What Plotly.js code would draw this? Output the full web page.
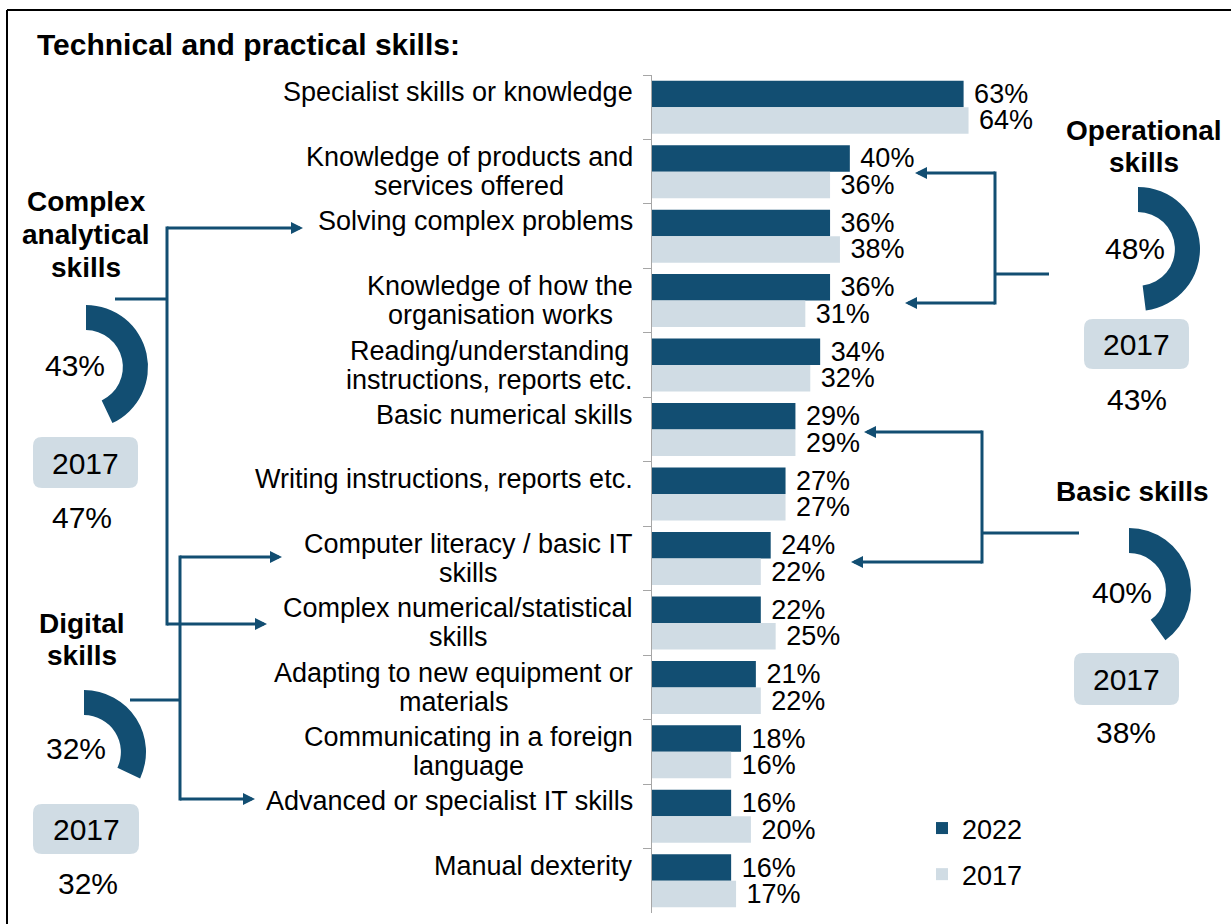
<!DOCTYPE html>
<html><head><meta charset="utf-8">
<script src="https://cdn.plot.ly/plotly-3.0.1.min.js"></script>
<style>html,body{margin:0;padding:0;background:#fff}#chart{width:1231px;height:924px}</style>
</head><body><div id="chart"></div>
<script>
// ---------------- DATA ----------------
const categories = [
  'Specialist skills or knowledge',
  'Knowledge of products and<br>services offered',
  'Solving complex problems',
  'Knowledge of how the<br>organisation works',
  'Reading/understanding<br>instructions, reports etc.',
  'Basic numerical skills',
  'Writing instructions, reports etc.',
  'Computer literacy / basic IT<br>skills',
  'Complex numerical/statistical<br>skills',
  'Adapting to new equipment or<br>materials',
  'Communicating in a foreign<br>language',
  'Advanced or specialist IT skills',
  'Manual dexterity'
];
const values2022 = [63, 40, 36, 36, 34, 29, 27, 24, 22, 21, 18, 16, 16];
const values2017 = [64, 36, 38, 31, 32, 29, 27, 22, 25, 22, 16, 20, 17];
const seriesNames = ['2022', '2017'];

const chartTitle = 'Technical and practical skills:';
const groupTitles = ['Complex<br>analytical<br>skills', 'Digital<br>skills', 'Operational<br>skills', 'Basic skills'];
const group2022 = [43, 32, 48, 40];
const group2017 = [47, 32, 43, 38];
const compareYear = '2017';

// ---------------- STYLE / LAYOUT ----------------
const W = 1231, H = 924;
const DARK = '#124e72', LIGHT = '#d0dce4';
const FONT = 'Liberation Sans, Arial, sans-serif';
const FS = 27;
const FS_GROUP = 30;
const X = p => p / W;
const Y = p => 1 - p / H;

// per-group placement (pixels)
const groupPlace = [
  {cx:86,  cy:367, r:62, valX:75,   valY:365, headX:86,   headY:[202,235,267], box:[33,437,138,488],   boxY:463, prevX:82,   prevY:517,
   vx:167, stub:[115,299], arrows:[[228,303],[624,267]]},
  {cx:84,  cy:752, r:62, valX:76,   valY:748, headX:82,   headY:[623,655],     box:[33,804,139,854],   boxY:829, prevX:88,   prevY:883,
   vx:180, stub:[130,700], arrows:[[557,282],[799,255]]},
  {cx:1138,cy:249, r:62, valX:1135, valY:248, headX:1144, headY:[130,162],     box:[1084,319,1189,369],boxY:344, prevX:1137, prevY:399,
   vx:995, stub:[1049,274], arrows:[[173,915],[303,905]]},
  {cx:1129,cy:590, r:62, valX:1122, valY:592, headX:1132, headY:[492],         box:[1074,653,1179,705],boxY:679, prevX:1126, prevY:732,
   vx:982, stub:[1079,533], arrows:[[432,864],[562,851]]}
];

const traces = [];
traces.push({
  type:'bar', orientation:'h', name:seriesNames[0], y:categories, x:values2022,
  marker:{color:DARK, line:{width:0}}, texttemplate:'\u00a0%{x}%', textposition:'outside',
  textfont:{size:FS, color:'#000', family:FONT}, constraintext:'none', cliponaxis:false,
  legendgroup:'a', hoverinfo:'skip'
});
traces.push({
  type:'bar', orientation:'h', name:seriesNames[1], y:categories, x:values2017,
  marker:{color:LIGHT, line:{width:0}}, texttemplate:'\u00a0%{x}%', textposition:'outside',
  textfont:{size:FS, color:'#000', family:FONT}, constraintext:'none', cliponaxis:false,
  legendgroup:'b', hoverinfo:'skip'
});

const shapes = [];
const annotations = [];
function txt(px, py, text, size, extra){
  return Object.assign({xref:'paper', yref:'paper', x:X(px), y:Y(py), xanchor:'center', yanchor:'middle', showarrow:false,
    text:text, font:{size:size, color:'#000', family:FONT}}, extra || {});
}

// frame (top + left)
shapes.push({type:'line', xref:'paper', yref:'paper', x0:X(7), y0:Y(10), x1:X(1231), y1:Y(10), line:{color:'#000', width:2}});
shapes.push({type:'line', xref:'paper', yref:'paper', x0:X(7), y0:Y(10), x1:X(7), y1:Y(924), line:{color:'#000', width:2}});

// title
annotations.push(txt(35, 45, '<b>'+chartTitle+'</b>', 30, {xanchor:'left'}));

// category labels (lines centered within block, block right-aligned to axis)
const ctx = document.createElement('canvas').getContext('2d');
ctx.font = FS + 'px "Liberation Sans"';
categories.forEach((c, i) => {
  const lines = c.split('<br>');
  const wmax = Math.max(...lines.map(l => ctx.measureText(l).width));
  const offs = lines.length === 1 ? [15] : [14.5, -14.5];
  lines.forEach((l, k) => {
    annotations.push({xref:'x', yref:'y', x:0, y:c, xanchor:'center', yanchor:'middle', showarrow:false,
      xshift: -19 - wmax/2, yshift: offs[k], text:l, font:{size:FS, color:'#000', family:FONT}});
  });
});

function rrect(x0,y0,x1,y1,r){
  const p = (x,y) => X(x)+','+Y(y);
  return 'M'+p(x0+r,y0)+' L'+p(x1-r,y0)+' Q'+p(x1,y0)+' '+p(x1,y0+r)+' L'+p(x1,y1-r)+' Q'+p(x1,y1)+' '+p(x1-r,y1)+
         ' L'+p(x0+r,y1)+' Q'+p(x0,y1)+' '+p(x0,y1-r)+' L'+p(x0,y0+r)+' Q'+p(x0,y0)+' '+p(x0+r,y0)+' Z';
}

groupPlace.forEach((g, i) => {
  // donut arc
  traces.push({type:'pie', values:[group2022[i], 100-group2022[i]], sort:false, direction:'clockwise', rotation:0,
    hole:0.595, marker:{colors:[DARK,'rgba(0,0,0,0)'], line:{width:0}}, textinfo:'none', hoverinfo:'skip', showlegend:false,
    domain:{x:[X(g.cx-g.r), X(g.cx+g.r)], y:[Y(g.cy+g.r), Y(g.cy-g.r)]}});
  annotations.push(txt(g.valX, g.valY, group2022[i]+'%', FS_GROUP));
  // heading
  groupTitles[i].split('<br>').forEach((l, k) => {
    annotations.push(txt(g.headX, g.headY[k], '<b>'+l+'</b>', 28));
  });
  // 2017 box
  shapes.push({type:'path', xref:'paper', yref:'paper', path:rrect(g.box[0],g.box[1],g.box[2],g.box[3],9), fillcolor:LIGHT, line:{width:0}});
  annotations.push(txt((g.box[0]+g.box[2])/2, g.boxY, compareYear, FS_GROUP));
  annotations.push(txt(g.prevX, g.prevY, group2017[i]+'%', FS_GROUP));
  // connectors
  const ys = g.arrows.map(a => a[0]);
  shapes.push({type:'line', xref:'paper', yref:'paper', x0:X(g.vx), y0:Y(Math.min(...ys)-1.5), x1:X(g.vx), y1:Y(Math.max(...ys)+1.5),
    line:{color:DARK, width:3}});
  shapes.push({type:'line', xref:'paper', yref:'paper', x0:X(g.stub[0]), y0:Y(g.stub[1]), x1:X(g.vx), y1:Y(g.stub[1]),
    line:{color:DARK, width:3}});
  g.arrows.forEach(a => {
    annotations.push({xref:'paper', yref:'paper', x:X(a[1]), y:Y(a[0]), ax:g.vx - a[1] + (g.vx > a[1] ? 1.5 : -1.5), ay:0,
      axref:'pixel', ayref:'pixel', showarrow:true, arrowhead:2, arrowsize:0.8, arrowwidth:3, arrowcolor:DARK, text:'', standoff:0});
  });
});

const layout = {
  width:W, height:H, margin:{l:0, r:0, t:0, b:0}, paper_bgcolor:'#fff', plot_bgcolor:'rgba(0,0,0,0)',
  font:{family:FONT, size:FS, color:'#000'},
  barmode:'group', bargap:0.178, bargroupgap:0,
  xaxis:{domain:[652/W, 1146.6/W], range:[0,100], visible:false, fixedrange:true},
  yaxis:{domain:[11/H, 1-75/H], type:'category', range:[12.5,-0.5], showticklabels:false, showgrid:false, zeroline:false,
    showline:true, linecolor:'#a6a6a6', linewidth:1, ticks:'outside', tickson:'boundaries', ticklen:8, tickcolor:'#a6a6a6', tickwidth:1,
    fixedrange:true},
  showlegend:true,
  legend:{x:X(922), y:Y(804), xanchor:'left', yanchor:'top', font:{size:FS, family:FONT, color:'#000'}, traceorder:'grouped',
    tracegroupgap:8, bgcolor:'rgba(0,0,0,0)'},
  shapes:shapes, annotations:annotations, hovermode:false
};

Plotly.newPlot('chart', traces, layout, {displayModeBar:false, staticPlot:true});
</script>
</body></html>
